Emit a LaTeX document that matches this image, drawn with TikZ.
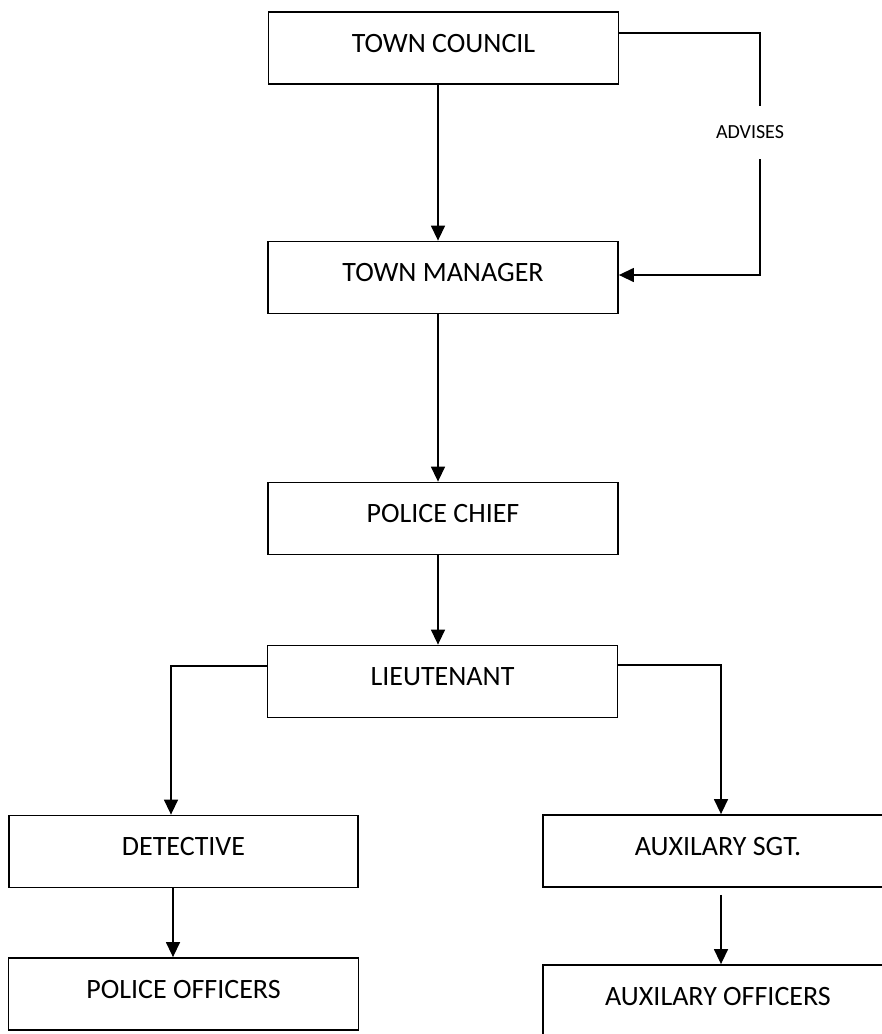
\documentclass[tikz,border=0pt]{standalone}
\usepackage{fontspec}
\setmainfont{Carlito}
\usetikzlibrary{arrows.meta}
\begin{document}
\begin{tikzpicture}[x=1pt,y=-1pt,
  orgbox/.style={draw=black, line width=1.8pt, rectangle, inner sep=0pt,
    minimum width=350pt, minimum height=72pt, text height=20pt, text depth=12pt,
    font=\fontsize{28}{30}\selectfont},
  conn/.style={draw=black, line width=1.4pt},
  arr/.style={conn, -{Triangle[width=14pt,length=15pt]}}]
\clip (0,0) rectangle (882,1034);
\fill[white] (0,0) rectangle (882,1034);
% boxes
\node[orgbox] (tc) at (443.5,48) {TOWN COUNCIL};
\node[orgbox] (tm) at (443,277.5) {TOWN MANAGER};
\node[orgbox] (pc) at (443,518.5) {POLICE CHIEF};
\node[orgbox] (lt) at (442.5,681.5) {LIEUTENANT};
\node[orgbox, minimum width=349pt] (det) at (183.5,851.5) {DETECTIVE};
\node[orgbox] (po) at (183.5,994) {POLICE OFFICERS};
\node[orgbox] (sgt) at (718,851) {AUXILARY SGT.};
\node[orgbox] (aux) at (718,1001) {AUXILARY OFFICERS};
% label
\node[inner sep=0pt, minimum height=53pt, font=\fontsize{20}{22}\selectfont] (adv) at (750,132.5) {ADVISES};
\coordinate (advx) at (760,0);
% connectors
\draw[arr] ([xshift=-5.5pt]tc.south) -- ([xshift=-5.5pt]tc.south |- tm.north);
\draw[arr] ([xshift=-5pt]tm.south) -- ([xshift=-5pt]tm.south |- pc.north);
\draw[arr] ([xshift=-5pt]pc.south) -- ([xshift=-5pt]pc.south |- lt.north);
\draw[conn] ([yshift=15pt]tc.east) -| (adv.north -| advx);
\draw[arr] (adv.south -| advx) |- ([yshift=2.5pt]tm.east);
\draw[arr] ([yshift=15.5pt]lt.west) -| ([xshift=-12.5pt]det.north);
\draw[arr] ([yshift=16.5pt]lt.east) -| ([xshift=3pt]sgt.north);
\draw[arr] ([xshift=-10.5pt]det.south) -- ([xshift=-10.5pt]det.south |- po.north);
\draw[arr] ([xshift=3pt,yshift=-7pt]sgt.south) -- ([xshift=3pt]sgt.south |- aux.north);
\end{tikzpicture}
\end{document}
